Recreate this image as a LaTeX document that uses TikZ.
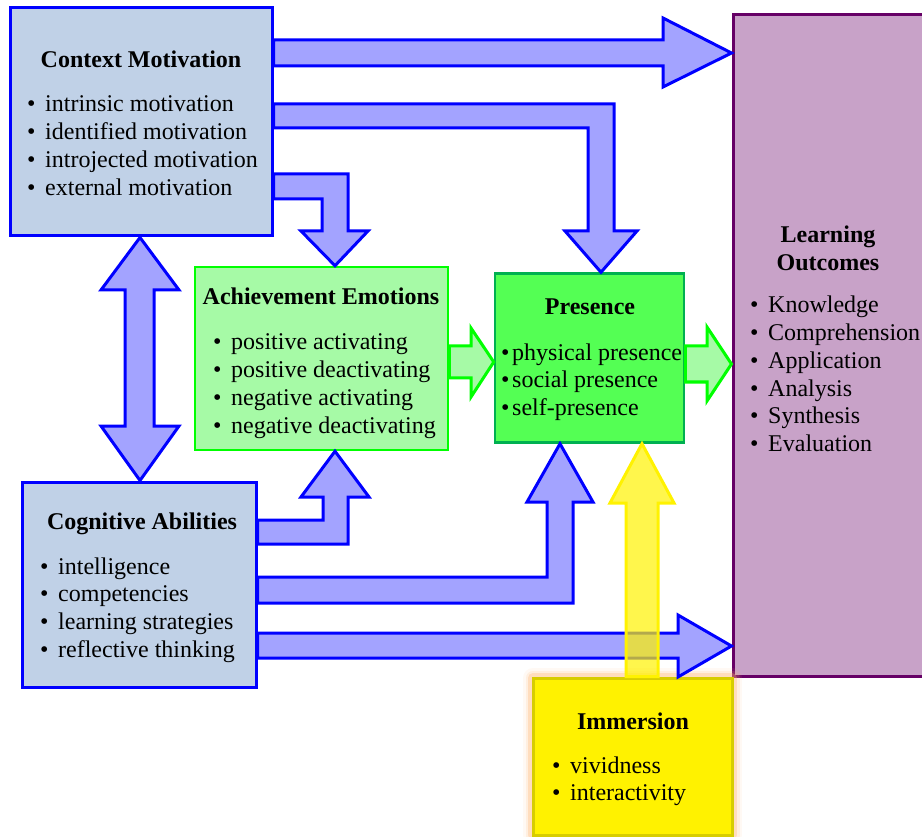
\documentclass[tikz,border=0pt]{standalone}
\usepackage{fontspec}
\setmainfont{Liberation Serif}
\definecolor{boxblue}{RGB}{192,209,231}
\definecolor{arrowfill}{RGB}{163,163,255}
\definecolor{palegreen}{RGB}{166,250,166}
\definecolor{brightgreen}{RGB}{0,255,0}
\definecolor{presgreen}{RGB}{84,255,84}
\definecolor{presedge}{RGB}{0,176,80}
\definecolor{lilac}{RGB}{200,162,200}
\definecolor{plum}{RGB}{102,0,102}
\definecolor{immedge}{RGB}{215,205,0}
\definecolor{glow}{RGB}{255,180,110}
\newcommand{\itm}{\makebox[18pt][l]{\textbullet}}
\newcommand{\itmt}{\makebox[11pt][l]{\textbullet}}
\tikzset{
 bluebox/.style={draw=blue, fill=boxblue, line width=3pt},
 emobox/.style={draw=brightgreen, fill=palegreen, line width=2.5pt},
 presbox/.style={draw=presedge, fill=presgreen, line width=2.5pt},
 outbox/.style={draw=plum, fill=lilac, line width=3pt},
 immbox/.style={draw=immedge, fill=yellow, line width=3pt,
  preaction={draw=glow, line width=20pt, opacity=.08, line join=round},
  preaction={draw=glow, line width=15pt, opacity=.15, line join=round},
  preaction={draw=glow, line width=10pt, opacity=.3, line join=round}},
 title/.style={font=\fontsize{24}{28}\selectfont\bfseries, anchor=base, inner sep=0pt},
 list/.style={anchor=base west, inner sep=0pt},
 blockarrow/.style={draw=blue, fill=arrowfill, line width=3pt},
 greenarrow/.style={draw=brightgreen, fill=palegreen, line width=3pt},
 yellowarrow/.style={draw=yellow, fill=yellow, fill opacity=.7, line width=3pt},
}

\begin{document}
\begin{tikzpicture}[x=1pt, y=-1pt, font=\fontsize{24}{27.7}\selectfont]
    \useasboundingbox (0,0) rectangle (922,837);
    \clip (0,0) rectangle (922,837);

    % boxes
    \node[bluebox, minimum width=262pt, minimum height=228pt] (cm) at (141,122) {};
    \node[emobox, minimum width=253pt, minimum height=183pt] (ae) at (321.5,358.5) {};
    \node[presbox, minimum width=189pt, minimum height=169pt] (pr) at (589.5,358) {};
    \node[outbox, minimum width=200pt, minimum height=661pt] (lo) at (833,345.5) {};
    \node[bluebox, minimum width=234pt, minimum height=205pt] (ca) at (139,584.5) {};
    \node[immbox, minimum width=199pt, minimum height=157pt] (im) at (632.5,756.5) {};

    % motivation to outcomes, presence, emotions
    \draw[blockarrow] (cm.east |- 0,40) -- (663,40) -- (663,18) -- (lo.west |- 0,53)
        -- (663,87) -- (663,66) -- (cm.east |- 0,66) -- cycle;
    \draw[blockarrow] (cm.east |- 0,104) -- (614,104) -- (614,231) -- (637,231)
        -- (601,0 |- pr.north) -- (565,231) -- (588,231) -- (588,128) -- (cm.east |- 0,128) -- cycle;
    \draw[blockarrow] (cm.east |- 0,174) -- (348,174) -- (348,231) -- (368,231)
        -- (335,0 |- ae.north) -- (301,231) -- (322,231) -- (322,199) -- (cm.east |- 0,199) -- cycle;

    % motivation <-> abilities
    \draw[blockarrow] (140,0 |- cm.south) -- (179,290) -- (154,290) -- (154,426) -- (179,426)
        -- (140,0 |- ca.north) -- (101,426) -- (125,426) -- (125,290) -- (101,290) -- cycle;

    % abilities to emotions, presence, outcomes
    \draw[blockarrow] (ca.east |- 0,520) -- (323,520) -- (323,497) -- (301,497)
        -- (335,0 |- ae.south) -- (369,497) -- (348,497) -- (348,544) -- (ca.east |- 0,544) -- cycle;
    \draw[blockarrow] (ca.east |- 0,577) -- (547,577) -- (547,502) -- (527,502)
        -- (560,0 |- pr.south) -- (593,502) -- (573,502) -- (573,603) -- (ca.east |- 0,603) -- cycle;
    \draw[blockarrow] (ca.east |- 0,633) -- (678,633) -- (678,615) -- (lo.west |- 0,646)
        -- (678,677) -- (678,658) -- (ca.east |- 0,658) -- cycle;

    % green arrows
    \draw[greenarrow] (ae.east |- 0,346) -- (471,346) -- (471,328) -- (pr.west |- 0,362)
        -- (471,397) -- (471,378) -- (ae.east |- 0,378) -- cycle;
    \draw[greenarrow] (pr.east |- 0,346) -- (707,346) -- (707,327) -- (lo.west |- 0,364)
        -- (707,401) -- (707,382) -- (pr.east |- 0,382) -- cycle;

    % immersion to presence
    \draw[yellowarrow] (626,0 |- im.north) -- (626,503) -- (610,503) -- (642,0 |- pr.south)
        -- (674,503) -- (658,503) -- (658,0 |- im.north) -- cycle;

    % texts
    \node[title] (cmt) at (141,68) {Context Motivation};
    \node[list] (cml) at (27,112) {\begin{tabular}[t]{@{}l@{}}
        \itm intrinsic motivation\\ \itm identified motivation\\
        \itm introjected motivation\\ \itm external motivation\end{tabular}};

    \node[title] (aet) at (321,305) {Achievement Emotions};
    \node[list] (ael) at (213,350) {\begin{tabular}[t]{@{}l@{}}
        \itm positive activating\\ \itm positive deactivating\\
        \itm negative activating\\ \itm negative deactivating\end{tabular}};

    \node[title] (prt) at (590,315) {Presence};
    \node[list] (prl) at (501,360) {\begin{tabular}[t]{@{}l@{}}
        \itmt physical presence\\ \itmt social presence\\ \itmt self-presence\end{tabular}};

    \node[title] (lot) at (828,243) {\begin{tabular}[t]{@{}c@{}}Learning\\Outcomes\end{tabular}};
    \node[list] (lol) at (750,313) {\begin{tabular}[t]{@{}l@{}}
        \itm Knowledge\\ \itm Comprehension\\ \itm Application\\
        \itm Analysis\\ \itm Synthesis\\ \itm Evaluation\end{tabular}};

    \node[title] (cat) at (142,529) {Cognitive Abilities};
    \node[list] (cal) at (40,574) {\begin{tabular}[t]{@{}l@{}}
        \itm intelligence\\ \itm competencies\\
        \itm learning strategies\\ \itm reflective thinking\end{tabular}};

    \node[title] (imt) at (633,729) {Immersion};
    \node[list] (iml) at (552,773) {\begin{tabular}[t]{@{}l@{}}
        \itm vividness\\ \itm interactivity\end{tabular}};
\end{tikzpicture}
\end{document}
